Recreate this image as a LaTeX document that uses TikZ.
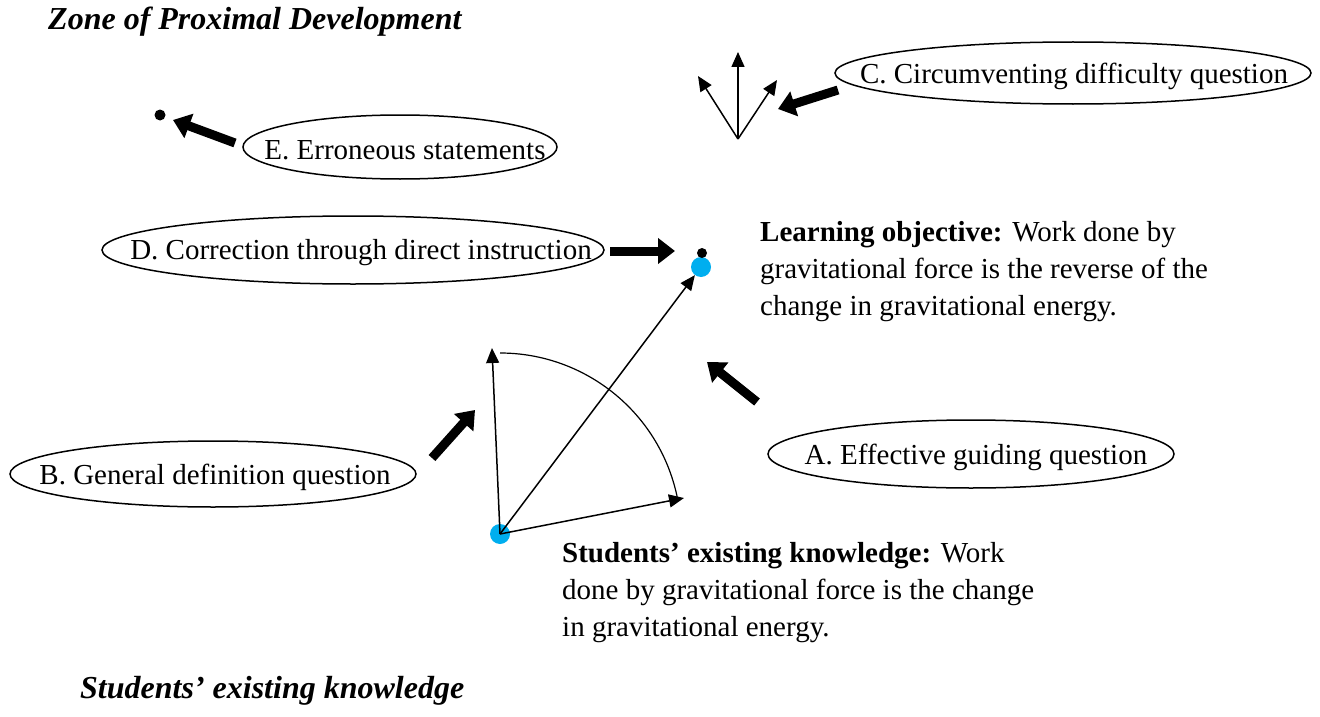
\documentclass[tikz,border=0pt]{standalone}
\usepackage{fontspec}
\setmainfont{Liberation Serif}
\usetikzlibrary{shapes.geometric, arrows.meta, positioning}
\definecolor{dotblue}{RGB}{0,174,239}
\newcommand{\qfont}{\fontsize{29}{37}\selectfont}

\tikzset{
    question/.style={inner sep=0pt, font=\qfont},
    ring/.style={line width=1.5pt},
    thinarrow/.style={line width=1.5pt, -{Triangle[length=15pt, width=13pt]}},
    fatarrow/.style={line width=9pt, -{Triangle[length=17pt, width=25pt]}},
    goal/.style={anchor=north west, align=left, inner sep=0pt, font=\qfont},
    zonetitle/.style={anchor=west, inner sep=0pt, font=\fontsize{32}{38}\selectfont\bfseries\itshape}
}

\begin{document}
\begin{tikzpicture}[x=1pt, y=-1pt]
    \useasboundingbox (0,0) rectangle (1320,717);

    % Titles
    \node[zonetitle] (zpd) at (48,22) {Zone of Proximal Development};
    \node[zonetitle] (sek) at (80,691) {Students’ existing knowledge};

    % Knowledge points
    \node[circle, fill=dotblue, minimum size=20pt, inner sep=0pt] (start) at (500,534) {};
    \node[circle, fill=dotblue, minimum size=20pt, inner sep=0pt] (target) at (701,267) {};
    \node[circle, fill=black, minimum size=10pt, inner sep=0pt] (direct) at (702,253) {};
    \node[circle, fill=black, minimum size=11pt, inner sep=0pt] (wrong) at (160,115) {};

    % Paths from existing knowledge
    \coordinate (upend) at (492,348);
    \coordinate (sideend) at (684,498);
    \draw[thinarrow] (start.center) -- (upend);
    \draw[thinarrow] (start.center) -- (sideend);
    \draw[thinarrow] (start.center) -- (target);
    \draw[line width=1.2pt] (start.center) ++(-90:181) arc[start angle=-90, end angle=-11, radius=181];

    % Fan of directions
    \coordinate (fanbase) at (738,139);
    \coordinate (fanup) at (738,52);
    \coordinate (fanleft) at (698,76);
    \coordinate (fanright) at (777,80);
    \foreach \tip in {fanup, fanleft, fanright}
        \draw[thinarrow] (fanbase) -- (\tip);

    % Questions
    \node[question] (qc) at (1074,76) {C. Circumventing difficulty question};
    \node[question] (qe) at (405,150) {E. Erroneous statements};
    \node[question] (qd) at (361,253) {D. Correction through direct instruction};
    \node[question] (qa) at (976,457) {A. Effective guiding question};
    \node[question] (qb) at (215,477) {B. General definition question};
    \draw[ring] (1073,73) ellipse[x radius=238, y radius=31];
    \draw[ring] (400,147) ellipse[x radius=157, y radius=32];
    \draw[ring] (353,250) ellipse[x radius=251, y radius=34];
    \draw[ring] (971,454) ellipse[x radius=203, y radius=34];
    \draw[ring] (213,474) ellipse[x radius=203, y radius=33];

    % Question arrows
    \coordinate (ctail) at (838,90);   \coordinate (ctip) at (778,109);
    \coordinate (etail) at (235,143);  \coordinate (etip) at (173,120);
    \coordinate (dtail) at (610,251);  \coordinate (dtip) at (675,251);
    \coordinate (atail) at (757,402);  \coordinate (atip) at (707,362);
    \coordinate (btail) at (432,458);  \coordinate (btip) at (475,410);
    \foreach \q in {c, e, d, a, b}
        \draw[fatarrow] (\q tail) -- (\q tip);

    % Descriptions
    \node[goal] (objective) at (760,221) {\textbf{Learning objective:} Work done by\\gravitational force is the reverse of the\\change in gravitational energy.};
    \node[goal] (existing) at (562,542) {\textbf{Students’ existing knowledge:} Work\\done by gravitational force is the change\\in gravitational energy.};
\end{tikzpicture}
\end{document}
